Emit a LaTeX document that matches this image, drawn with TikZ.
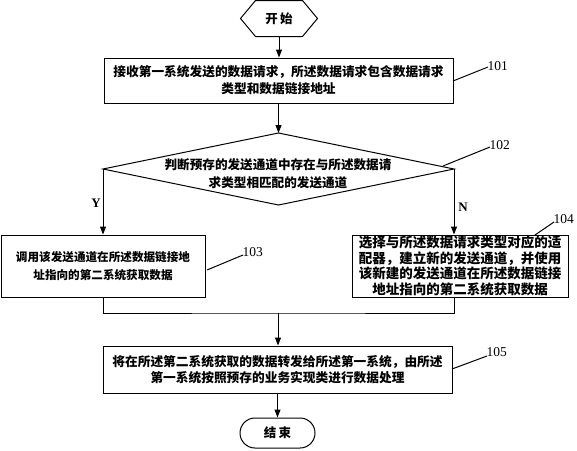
\documentclass[tikz,border=0pt]{standalone}
\usepackage{fontspec}
\setmainfont{Liberation Serif}
\newfontfamily\cjk{Noto Sans CJK SC}
\usetikzlibrary{arrows.meta}
\begin{document}
\begin{tikzpicture}[x=1pt,y=-1pt,
  line width=1pt,
  box/.style={draw, inner sep=0pt, align=center},
  txt/.style={inner sep=0pt, align=center},
  arr/.style={-{Triangle[length=8pt,width=6pt]}},
  num/.style={inner sep=0pt, anchor=west, font=\fontsize{13.5}{13.5}\selectfont},
  yn/.style={inner sep=0pt, font=\fontsize{13}{13}\selectfont\bfseries}
]
\useasboundingbox (0,0) rectangle (577,450);
% start
\node[txt, minimum width=76pt, minimum height=35pt, font=\cjk\bfseries\fontsize{12.5}{14}\selectfont] (start) at (279,18.5) {开\,始};
\draw (start.west) -- ([xshift=15pt]start.north west) -- ([xshift=-15pt]start.north east) -- (start.east) -- ([xshift=-15pt]start.south east) -- ([xshift=15pt]start.south west) -- cycle;
% box 1
\node[box, minimum width=349pt, minimum height=45pt, font=\cjk\bfseries\fontsize{12.7}{17}\selectfont] (b1) at (278.5,80.5) {接收第一系统发送的数据请求，所述数据请求包含数据请求\\类型和数据链接地址};
% decision
\coordinate (decT) at (278.5,133);
\coordinate (decB) at (278.5,205);
\coordinate (decL) at (103,169);
\coordinate (decR) at (454,169);
\draw (decT) -- (decR) -- (decB) -- (decL) -- cycle;
\node[txt, font=\cjk\bfseries\fontsize{12.6}{18}\selectfont] (dec) at (278,174) {判断预存的发送通道中存在与所述数据请\\求类型相匹配的发送通道};
% box 103
\node[box, minimum width=204pt, minimum height=62pt, font=\cjk\bfseries\fontsize{11.6}{17.3}\selectfont] (b103) at (103,266) {调用该发送通道在所述数据链接地\\址指向的第二系统获取数据};
% box 104
\node[box, minimum width=216pt, minimum height=62pt, font=\cjk\bfseries\fontsize{13.5}{15.5}\selectfont] (b104) at (460,266) {选择与所述数据请求类型对应的适\\配器，建立新的发送通道，并使用\\该新建的发送通道在所述数据链接\\地址指向的第二系统获取数据};
% box 105
\node[box, minimum width=349pt, minimum height=47pt, font=\cjk\bfseries\fontsize{12.7}{16.5}\selectfont] (b105) at (277.5,369.5) {将在所述第二系统获取的数据转发给所述第一系统，由所述\\第一系统按照预存的业务实现类进行数据处理};
% end
\node[box, rounded corners=15pt, minimum width=75pt, minimum height=30pt, font=\cjk\bfseries\fontsize{12.5}{14}\selectfont] (end) at (277.5,433) {结\,束};
% connectors
\coordinate (merge) at (278,313);
\draw[arr] (start.south) -- (start.south |- b1.north);
\draw[arr] (b1.south -| decT) -- (decT);
\draw[arr] (decL) -- (decL |- b103.north);
\draw[arr] (decR) -- (decR |- b104.north);
\draw (b103.south) |- (merge) -| (decR |- b104.south);
\draw[arr] (merge) -- (merge |- b105.north);
\draw[arr] (b105.south) -- (end.north);
% labels
\node[yn] (ylab) at (96,203) {Y};
\node[yn] (nlab) at (463,207) {N};
\coordinate (l101a) at (453,81);
\coordinate (l101b) at (488,67);
\draw (l101a) -- (l101b);
\node[num] (n101) at (487,66) {101};
\coordinate (l102a) at (443,166);
\coordinate (l102b) at (490,147);
\draw (l102a) -- (l102b);
\node[num] (n102) at (489,145) {102};
\coordinate (l103a) at (207,270);
\coordinate (l103b) at (243,255);
\draw (l103a) -- (l103b);
\node[num] (n103) at (242,252) {103};
\coordinate (l104a) at (535,235);
\coordinate (l104b) at (554,222);
\draw (l104a) -- (l104b);
\node[num] (n104) at (553,219) {104};
\coordinate (l105a) at (452,369);
\coordinate (l105b) at (487,356);
\draw (l105a) -- (l105b);
\node[num] (n105) at (486,352) {105};
\end{tikzpicture}
\end{document}
